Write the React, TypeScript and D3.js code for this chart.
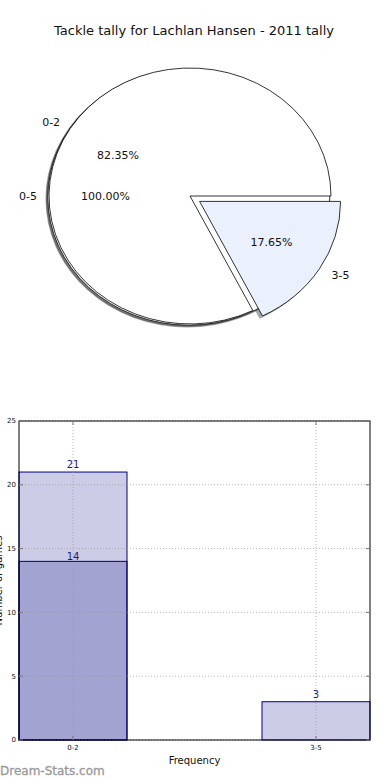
import React from "react";
import * as d3 from "d3";

const title = "Tackle tally for Lachlan Hansen - 2011 tally";
const outerLabels = ["0-5"];
const outerValues = [17];
const innerLabels = ["0-2", "3-5"];
const innerValues = [14, 3];
const innerExplode = [0, 0.08];

const barCategories = ["0-2", "3-5"];
const totalSeries = [21, 3];
const subSeries = [14, 0];
const yTicks = [0, 5, 10, 15, 20, 25];

const W = 390;
const H = 780;
const FONT = "DejaVu Sans, Liberation Sans, sans-serif";

function pieSlices(values: number[]) {
  return d3
    .pie<number>()
    .sort(null)
    .startAngle(Math.PI / 2)
    .endAngle(Math.PI / 2 - 2 * Math.PI)(values);
}

function polar(a: number, r: number) {
  return [Math.sin(a) * r, -Math.cos(a) * r];
}

export default function App() {
  const cx = 190;
  const cy = 196;
  const rx = 141;
  const ry = 128;
  const arc = d3.arc<any>().innerRadius(0).outerRadius(1);
  const shadowDx = -2.8;
  const shadowDy = 2.8;

  const outer = pieSlices(outerValues);
  const inner = pieSlices(innerValues);
  const total = d3.sum(innerValues);

  const tr = (dx: number, dy: number) =>
    `translate(${cx + dx},${cy + dy}) scale(${rx},${ry})`;

  const explodeOffset = (d: any, e: number) => {
    const m = (d.startAngle + d.endAngle) / 2;
    const [ux, uy] = polar(m, e);
    return [ux * rx, uy * ry];
  };

  // bar chart
  const left = 19;
  const right = 370;
  const top = 421;
  const bottom = 740;
  const barW = 0.4444;
  const x = d3.scaleLinear().domain([-barW / 2, 1 + barW / 2]).range([left, right]);
  const y = d3.scaleLinear().domain([0, 25]).range([bottom, top]);
  const navy = "#000080";

  return (
    <svg
      width={W}
      height={H}
      style={{ position: "absolute", left: 0, top: 0, background: "#fff" }}
      fontFamily={FONT}
    >
      <text x={194} y={35} fontSize={13} textAnchor="middle" fill="#111">
        {title}
      </text>

      {/* shadows */}
      {outer.map((d, i) => (
        <path
          key={"os" + i}
          d={arc(d) as string}
          transform={tr(shadowDx, shadowDy)}
          fill="rgb(77,77,77)"
          fillOpacity={0.5}
          stroke="rgb(77,77,77)"
          strokeOpacity={0.5}
          strokeWidth={1.5}
          vectorEffect="non-scaling-stroke"
        />
      ))}
      {inner.map((d, i) => {
        const [ox, oy] = explodeOffset(d, innerExplode[i]);
        return (
          <path
            key={"is" + i}
            d={arc(d) as string}
            transform={tr(ox + shadowDx, oy + shadowDy)}
            fill="rgb(77,77,77)"
            fillOpacity={0.5}
            stroke="none"
          />
        );
      })}

      {/* outer wedge 0-5 */}
      {outer.map((d, i) => (
        <path
          key={"ow" + i}
          d={arc(d) as string}
          transform={tr(-1.2, 1.2)}
          fill="#fff"
          stroke="#000"
          strokeWidth={0.8}
          vectorEffect="non-scaling-stroke"
        />
      ))}

      {/* inner wedges */}
      {inner.map((d, i) => {
        const [ox, oy] = explodeOffset(d, innerExplode[i]);
        return (
          <path
            key={"iw" + i}
            d={arc(d) as string}
            transform={tr(ox, oy)}
            fill={i === 0 ? "#ffffff" : "#ebf0fd"}
            stroke="#000"
            strokeWidth={0.8}
            vectorEffect="non-scaling-stroke"
          />
        );
      })}

      {/* labels */}
      {outer.map((d, i) => {
        const m = (d.startAngle + d.endAngle) / 2;
        const [lx, ly] = polar(m, 1.1);
        const [px, py] = polar(m, 0.6);
        return (
          <g key={"ol" + i} fontSize={11} fill="#111">
            <text
              x={cx + lx * rx + 2}
              y={cy + ly * ry}
              dy="0.35em"
              textAnchor={lx < 0 ? "end" : "start"}
            >
              {outerLabels[i]}
            </text>
            <text x={cx + px * rx} y={cy + py * ry} dy="0.35em" textAnchor="middle">
              {(100).toFixed(2)}%
            </text>
          </g>
        );
      })}
      {inner.map((d, i) => {
        const m = (d.startAngle + d.endAngle) / 2;
        const e = innerExplode[i];
        const [lx, ly] = polar(m, 1.1 + e);
        const [px, py] = polar(m, 0.6 + e);
        return (
          <g key={"il" + i} fontSize={11} fill="#111">
            <text
              x={cx + lx * rx + (lx < 0 ? 2 : 0)}
              y={cy + ly * ry}
              dy="0.35em"
              textAnchor={lx < 0 ? "end" : "start"}
            >
              {innerLabels[i]}
            </text>
            <text x={cx + px * rx} y={cy + py * ry} dy="0.35em" textAnchor="middle">
              {((innerValues[i] / total) * 100).toFixed(2)}%
            </text>
          </g>
        );
      })}

      {/* bar chart */}
      <g>
        {barCategories.map((c, i) => (
          <rect
            key={"b1" + i}
            x={x(i - barW / 2)}
            y={y(totalSeries[i])}
            width={x(barW) - x(0)}
            height={y(0) - y(totalSeries[i])}
            fill={navy}
            fillOpacity={0.2}
            stroke={navy}
            strokeWidth={1}
          />
        ))}
        {barCategories.map((c, i) =>
          subSeries[i] > 0 ? (
            <rect
              key={"b2" + i}
              x={x(i - barW / 2)}
              y={y(subSeries[i])}
              width={x(barW) - x(0)}
              height={y(0) - y(subSeries[i])}
              fill={navy}
              fillOpacity={0.2}
              stroke={navy}
              strokeWidth={1}
            />
          ) : null
        )}

        {yTicks.map((t) => (
          <line
            key={"gy" + t}
            x1={left}
            x2={right}
            y1={y(t)}
            y2={y(t)}
            stroke="#999"
            strokeOpacity={0.7}
            strokeDasharray="1,2"
            strokeWidth={1}
          />
        ))}
        {barCategories.map((c, i) => (
          <line
            key={"gx" + i}
            x1={x(i)}
            x2={x(i)}
            y1={top}
            y2={bottom}
            stroke="#999"
            strokeOpacity={0.7}
            strokeDasharray="1,2"
            strokeWidth={1}
          />
        ))}

        {barCategories.map((c, i) => (
          <text
            key={"v1" + i}
            x={x(i)}
            y={y(totalSeries[i]) - 4}
            textAnchor="middle"
            fontSize={10}
            fill="#1a1a8c"
          >
            {totalSeries[i]}
          </text>
        ))}
        {barCategories.map((c, i) =>
          subSeries[i] > 0 ? (
            <text
              key={"v2" + i}
              x={x(i)}
              y={y(subSeries[i]) - 1}
              textAnchor="middle"
              fontSize={10}
              fill="#1a1a8c"
            >
              {subSeries[i]}
            </text>
          ) : null
        )}

        <rect
          x={left}
          y={top}
          width={right - left}
          height={bottom - top}
          fill="none"
          stroke="#000"
          strokeWidth={1}
        />

        {yTicks.map((t) => (
          <g key={"ty" + t}>
            <line x1={left} x2={left + 4} y1={y(t)} y2={y(t)} stroke="#777" />
            <line x1={right} x2={right - 4} y1={y(t)} y2={y(t)} stroke="#777" />
            <text x={left - 3} y={y(t)} dy="0.35em" textAnchor="end" fontSize={7} fill="#111">
              {t}
            </text>
          </g>
        ))}
        {barCategories.map((c, i) => (
          <g key={"tx" + i}>
            <line x1={x(i)} x2={x(i)} y1={bottom} y2={bottom - 4} stroke="#777" />
            <line x1={x(i)} x2={x(i)} y1={top} y2={top + 4} stroke="#777" />
            <text x={x(i)} y={bottom + 10} textAnchor="middle" fontSize={7} fill="#111">
              {c}
            </text>
          </g>
        ))}

        <text x={(left + right) / 2} y={764} textAnchor="middle" fontSize={10} fill="#111">
          Frequency
        </text>
        <text
          transform={`translate(1.5,${(top + bottom) / 2}) rotate(-90)`}
          textAnchor="middle"
          fontSize={10}
          fill="#111"
        >
          Number of games
        </text>
      </g>

      <text x={0} y={775} fontSize={12} fill="#999" stroke="#999" strokeWidth={0.3}>
        Dream-Stats.com
      </text>
    </svg>
  );
}
